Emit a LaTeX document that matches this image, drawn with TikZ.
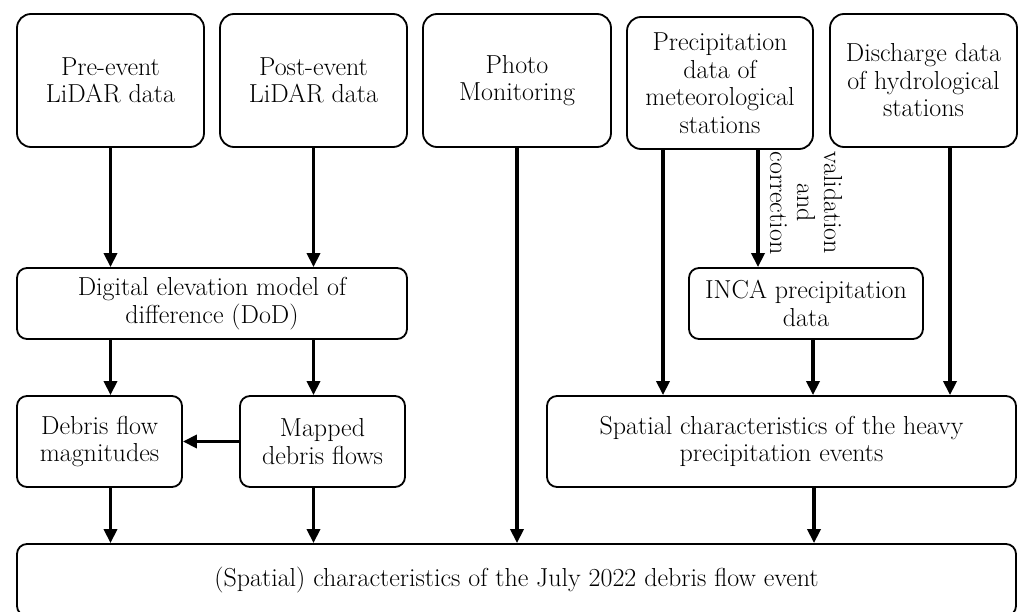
\documentclass[tikz,border=0pt]{standalone}
\usetikzlibrary{arrows.meta}

\tikzset{
  box/.style={draw, line width=1.8pt, rounded corners=10pt, align=center,
    inner sep=2pt, font=\fontsize{26}{27.5}\selectfont},
  srcbox/.style={box, rounded corners=14pt, minimum height=133pt},
  midbox/.style={box, minimum height=71pt},
  lowbox/.style={box, minimum height=91pt},
  arr/.style={line width=3.6pt, -{Triangle[width=13pt,length=14pt]}},
  note/.style={font=\fontsize{26}{27}\selectfont, align=center, rotate=-90, inner sep=0pt}
}

\begin{document}
\begin{tikzpicture}[x=1pt, y=-1pt]
  \useasboundingbox (0,0) rectangle (1024,612);

  % data sources
  \node[srcbox, minimum width=187pt] (pre)   at (110.5,80.5) {Pre-event\\LiDAR data};
  \node[srcbox, minimum width=187pt] (post)  at (313.5,80.5) {Post-event\\LiDAR data};
  \node[srcbox, minimum width=188pt] (photo) at (517,80.5)   {Photo\\Monitoring};
  \node[srcbox, minimum width=186pt, minimum height=132pt] (precip) at (720,83)
        {Precipitation\\data of\\meteorological\\stations};
  \node[srcbox, minimum width=187pt] (disch) at (923.5,80.5) {Discharge data\\of hydrological\\stations};

  % intermediate products
  \node[midbox, minimum width=390pt] (dod)  at (212,303.5) {Digital elevation model of\\difference (DoD)};
  \node[midbox, minimum width=234pt] (inca) at (806,303.5) {INCA precipitation\\data};

  \node[lowbox, minimum width=165pt] (mag)    at (99.5,441.5)  {Debris flow\\magnitudes};
  \node[lowbox, minimum width=165pt] (mapped) at (322.5,441.5) {Mapped\\debris flows};
  \node[lowbox, minimum width=469pt] (spat)   at (781.5,441.5) {Spatial characteristics of the heavy\\precipitation events};

  % result
  \node[box, minimum width=999pt, minimum height=72pt] (final) at (516.5,580)
        {(Spatial) characteristics of the July 2022 debris flow event};

  % label on the correction step
  \node[note] (vc) at (806,203) {validation\\and\\correction};

  % connector start points off the box centres
  \coordinate (pl) at ([xshift=-57pt]precip.south);
  \coordinate (pr) at ([xshift=38pt]precip.south);
  \coordinate (dc) at ([xshift=26.5pt]disch.south);
  \coordinate (ic) at ([xshift=7pt]inca.south);
  \coordinate (sc) at ([xshift=32.5pt]spat.south);

  % connectors
  \draw[arr] (pre.south)  -- (pre.south |- dod.north);
  \draw[arr] (post.south) -- (post.south |- dod.north);
  \draw[arr] (pre.south |- dod.south)  -- (pre.south |- mag.north);
  \draw[arr] (post.south |- dod.south) -- (post.south |- mapped.north);
  \draw[arr] (mapped.west) -- (mag.east);
  \draw[arr] (pre.south |- mag.south)     -- (pre.south |- final.north);
  \draw[arr] (post.south |- mapped.south) -- (post.south |- final.north);
  \draw[arr] (photo.south) -- (photo.south |- final.north);
  \draw[arr] (pl) -- (pl |- spat.north);
  \draw[arr] (pr) -- (pr |- inca.north);
  \draw[arr] (ic) -- (ic |- spat.north);
  \draw[arr] (dc) -- (dc |- spat.north);
  \draw[arr] (sc) -- (sc |- final.north);
\end{tikzpicture}
\end{document}
